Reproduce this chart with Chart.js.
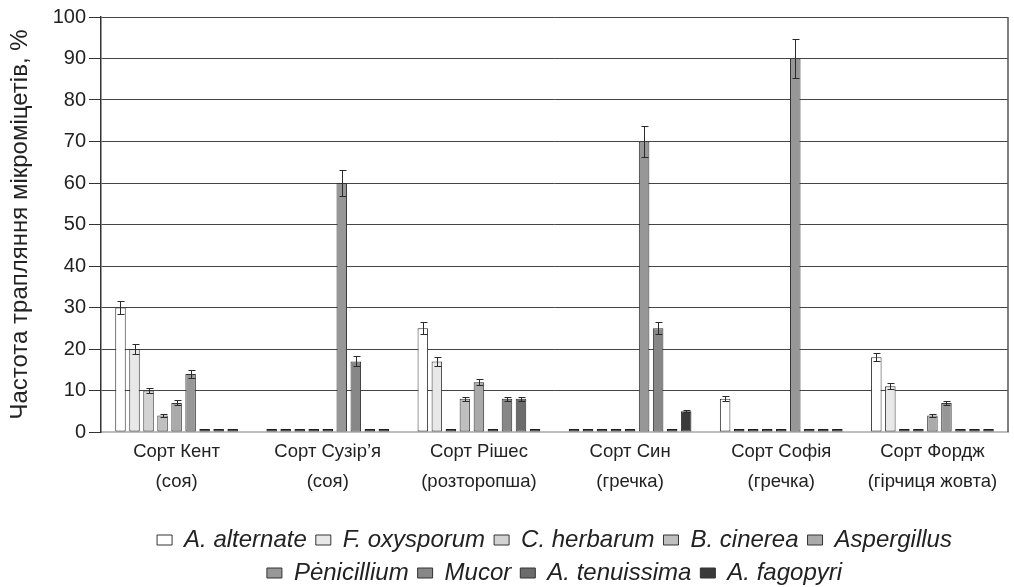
<!DOCTYPE html>
<html>
<head>
<meta charset="utf-8">
<script src="https://cdn.jsdelivr.net/npm/chart.js@4/dist/chart.umd.min.js"></script>
<style>
html,body{margin:0;padding:0;background:#fff;}
#wrap{width:1014px;height:587px;}
</style>
</head>
<body>
<div id="wrap"><canvas id="c" width="1014" height="587"></canvas></div>
<script>
// ---- data ----
const categories = [
  ['Сорт Кент', '(соя)'],
  ['Сорт Сузір’я', '(соя)'],
  ['Сорт Рішес', '(розторопша)'],
  ['Сорт Син', '(гречка)'],
  ['Сорт Софія', '(гречка)'],
  ['Сорт Фордж', '(гірчиця жовта)']
];
const seriesNames = ['A. alternate', 'F. oxysporum', 'C. herbarum', 'B. cinerea', 'Aspergillus',
  'Pėnicillium', 'Mucor', 'A. tenuissima', 'A. fagopyri'];

const alternate   = [30, 0, 25, 0, 8, 18];
const oxysporum   = [20, 0, 17, 0, 0, 11];
const herbarum    = [10, 0, 0, 0, 0, 0];
const cinerea     = [4, 0, 8, 0, 0, 0];
const aspergillus = [7, 0, 12, 0, 0, 4];
const penicillium = [14, 60, 0, 70, 90, 7];
const mucor       = [0, 17, 8, 25, 0, 0];
const tenuissima  = [0, 0, 8, 0, 0, 0];
const fagopyri    = [0, 0, 0, 5, 0, 0];

const alternateErr   = [1.6, 0, 1.5, 0, 0.6, 1.0];
const oxysporumErr   = [1.2, 0, 1.0, 0, 0, 0.7];
const herbarumErr    = [0.7, 0, 0, 0, 0, 0];
const cinereaErr     = [0.4, 0, 0.55, 0, 0, 0];
const aspergillusErr = [0.6, 0, 0.7, 0, 0, 0.4];
const penicilliumErr = [1.0, 3.2, 0, 3.7, 4.8, 0.5];
const mucorErr       = [0, 1.2, 0.55, 1.5, 0, 0];
const tenuissimaErr  = [0, 0, 0.55, 0, 0, 0];
const fagopyriErr    = [0, 0, 0, 0.25, 0, 0];

const yTicks = [0, 10, 20, 30, 40, 50, 60, 70, 80, 90, 100];

const seriesValues = [alternate, oxysporum, herbarum, cinerea, aspergillus, penicillium, mucor, tenuissima, fagopyri];
const seriesErrors = [alternateErr, oxysporumErr, herbarumErr, cinereaErr, aspergillusErr, penicilliumErr, mucorErr, tenuissimaErr, fagopyriErr];
const seriesColors = ['#ffffff', '#e8e8e8', '#d3d3d3', '#bfbfbf', '#aaaaaa', '#979797', '#878787', '#6c6c6c', '#3a3a3a'];

// ---- styles ----
const SANS = "'Liberation Sans', Arial, sans-serif";
const ZERO_COLOR = '#1e1e1e';

const datasets = seriesNames.map((name, i) => ({
  label: name,
  data: seriesValues[i],
  errors: seriesErrors[i],
  backgroundColor: seriesValues[i].map(v => (v === 0 ? ZERO_COLOR : seriesColors[i])),
  borderColor: seriesValues[i].map(v => (v === 0 ? ZERO_COLOR : '#333333')),
  borderWidth: 1,
  borderSkipped: false,
  minBarLength: 3,
  categoryPercentage: 0.835,
  barPercentage: 0.75
}));

const errorBars = {
  id: 'errorBars',
  afterDatasetsDraw(chart) {
    const ctx = chart.ctx;
    const yScale = chart.scales.y;
    ctx.save();
    ctx.strokeStyle = '#2a2a2a';
    ctx.lineWidth = 1;
    chart.data.datasets.forEach((ds, di) => {
      const meta = chart.getDatasetMeta(di);
      meta.data.forEach((bar, i) => {
        const e = ds.errors[i];
        const v = ds.data[i];
        if (!e) return;
        const x = Math.round(bar.x) + 0.5;
        const yTop = Math.round(yScale.getPixelForValue(v + e)) + 0.5;
        const yBot = Math.round(yScale.getPixelForValue(v - e)) + 0.5;
        ctx.beginPath();
        ctx.moveTo(x, yTop); ctx.lineTo(x, yBot);
        ctx.moveTo(x - 3, yTop); ctx.lineTo(x + 4, yTop);
        ctx.moveTo(x - 3, yBot); ctx.lineTo(x + 4, yBot);
        ctx.stroke();
      });
    });
    ctx.restore();
  }
};

const rightBorder = {
  id: 'rightBorder',
  afterDraw(chart) {
    const a = chart.chartArea;
    const ctx = chart.ctx;
    ctx.save();
    ctx.strokeStyle = '#555555';
    ctx.lineWidth = 1.5;
    ctx.beginPath();
    ctx.moveTo(a.right, a.top);
    ctx.lineTo(a.right, a.bottom);
    ctx.stroke();
    ctx.restore();
  }
};

new Chart(document.getElementById('c'), {
  type: 'bar',
  data: { labels: categories, datasets },
  options: {
    responsive: false,
    animation: false,
    layout: { padding: { top: 17, right: 6, left: 0, bottom: 0 } },
    plugins: {
      tooltip: { enabled: false },
      legend: {
        position: 'bottom',
        fullSize: false,
        maxHeight: 68,
        labels: {
          color: '#222',
          font: { family: SANS, size: 24, style: 'italic' },
          boxWidth: 15,
          boxHeight: 10,
          padding: 9,
          generateLabels(chart) {
            const items = Chart.defaults.plugins.legend.labels.generateLabels(chart);
            items.forEach(it => {
              it.fillStyle = seriesColors[it.datasetIndex];
              it.strokeStyle = '#333333';
              it.lineWidth = 1;
            });
            return items;
          }
        }
      }
    },
    scales: {
      x: {
        grid: { display: false, drawTicks: false },
        border: { color: '#bdbdbd', width: 2 },
        ticks: {
          color: '#222',
          padding: 5,
          maxRotation: 0,
          autoSkip: false,
          font: { family: SANS, size: 18.5, lineHeight: 1.62 }
        },
        afterFit(scale) { scale.height = 87; }
      },
      y: {
        min: 0,
        max: 100,
        afterBuildTicks(scale) { scale.ticks = yTicks.map(v => ({ value: v })); },
        grid: {
          color: ctx => (ctx.tick && ctx.tick.value === 0 ? '#bdbdbd' : '#454545'),
          tickColor: '#333',
          tickLength: 12,
          lineWidth: 1
        },
        border: { color: '#333', width: 1.5 },
        ticks: {
          color: '#222',
          padding: 3,
          font: { family: SANS, size: 20 }
        },
        title: {
          display: true,
          text: 'Частота трапляння мікроміцетів, %',
          color: '#222',
          font: { family: SANS, size: 24 },
          padding: { top: 6, bottom: 0 }
        },
        afterFit(scale) { scale.width = 101; }
      }
    }
  },
  plugins: [errorBars, rightBorder]
});
</script>
</body>
</html>
